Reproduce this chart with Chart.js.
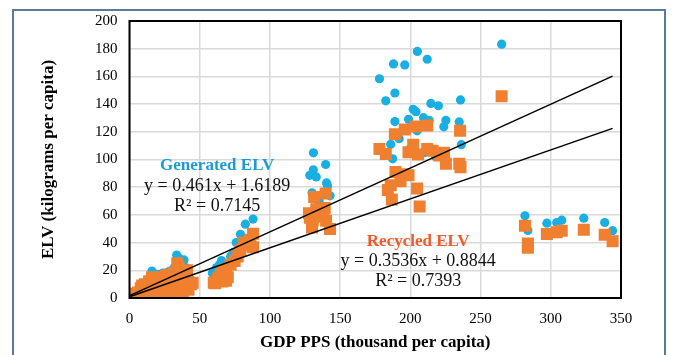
<!DOCTYPE html>
<html lang="en">
<head>
    <meta charset="UTF-8">
    <title>ELV vs GDP</title>
    <script src="https://cdn.jsdelivr.net/npm/chart.js@4"></script>
    <style>
        body{
            margin: 0;
            background: white;
        }
        .divGrafico{
            width: 674px;
            height: 355px;
        }
    </style>
</head>
<body>
    <div class="divGrafico">
        <canvas id="grafico" width="674" height="355"></canvas>
    </div>

    <script>
        // Generated ELV (kg per capita) vs GDP PPS (thousand per capita)
        let genX = [0.5, 1, 2, 3, 4, 5, 6, 7, 8, 9, 10, 11, 12, 13, 14, 15, 16, 18, 20, 22, 24, 26, 28, 30, 32, 33.6, 35, 37, 38.8, 40, 42, 44, 45,
            59, 62, 64, 65.5, 67, 69, 72, 74, 76, 79, 82.5, 88,
            128.4, 130, 130.9, 131, 133, 139.7, 140.3, 141, 142.8, 135, 137, 132,
            178, 182.5, 186, 187.4, 188, 189, 189, 196, 198.7, 202, 204, 204.8, 205, 209.4, 212, 213.4, 214.6, 220, 223.8, 225.3, 234.8, 235.7, 236.3, 265, 192, 200, 210, 218,
            281.6, 283.7, 297.2, 304.2, 307.8, 323.5, 338.4, 344];
        let genY = [1, 2, 0.5, 3, 2, 4, 5, 6, 8, 9, 10, 8, 12, 11, 13, 16, 19.5, 15, 17, 17, 18, 16, 19, 20, 22, 31, 29, 26, 27.5, 22, 15, 13, 12,
            18, 22, 24, 27, 25, 22, 30, 33, 40, 46, 53.3, 57,
            88.6, 76, 92.6, 104.8, 87.4, 96.4, 83.1, 81, 73.8, 70, 66, 65,
            158.3, 142.4, 111, 100.5, 169, 148, 127.4, 168.3, 129, 136.2, 134.5, 120.7, 178, 130.2, 172.4, 128.3, 140.5, 138.8, 123.6, 128.3, 127.1, 143, 110.7, 183.3, 115, 108, 105, 102,
            59.3, 48.8, 54, 54.5, 56.2, 57.6, 54.5, 48.6];

        // Recycled ELV
        let recX = [0, 0.5, 1, 2, 3, 4, 5, 6, 7, 8, 9, 10, 11, 12, 13, 14, 15, 16, 17, 18, 19, 20, 21, 22, 23, 24, 25, 26, 27, 28, 29, 30, 31, 32, 33, 34, 35, 36, 37, 38, 39, 40, 41, 42, 44, 45,
            60, 61, 63, 65, 66, 67, 68.8, 68.8, 70, 72, 74.9, 77, 79, 81.6, 84, 88, 88, 86,
            127.8, 128.5, 130, 130.5, 131.5, 133, 134.5, 136, 138, 139.7, 140, 139, 142.8,
            178, 182.5, 184, 186, 186.8, 189, 189.4, 193, 194.7, 196, 198.7, 198.7, 202, 204, 204.8, 205.5, 206.6, 212, 212, 215.8, 221, 224, 225.3, 234.8, 235.7, 235.4, 265,
            281.6, 283.7, 283.7, 297.2, 304.2, 307.8, 323.5, 338.4, 344];
        let recY = [0, 1, 0, 2, 1, 3, 0, 4, 2, 7, 9, 5, 10, 3, 8, 12, 6, 15, 11, 3, 14, 1, 9, 15, 6, 2, 13, 16, 7, 3, 17, 11, 5, 18, 2, 25, 22, 15, 8, 3, 19, 12, 20, 6, 10, 11,
            11, 10.7, 14, 17, 12, 19, 12.4, 20.7, 15, 24, 26.7, 30, 34.5, 39.8, 38, 36.7, 46.4, 42,
            61.2, 58, 51, 56, 73, 64, 58.8, 62, 60, 75.5, 55.7, 65, 49.8,
            107.6, 104, 77.9, 81.4, 71.2, 118.3, 91, 84.3, 89.3, 121.7, 88.6, 105.2, 110.7, 123.8, 79, 103.6, 66, 124.5, 107.6, 106.4, 102.9, 104.8, 96.9, 96.9, 94.5, 120.7, 145.7,
            52.1, 39.3, 36.2, 46.2, 47.4, 48.6, 49.3, 45.7, 41];

        // linear trendlines, end points
        let trendX = [0.5, 344];
        let trendGen = [1.85, 160.2];
        let trendRec = [1.06, 122.5];

        let xTicks = [0, 50, 100, 150, 200, 250, 300, 350];
        let yTicks = [0, 20, 40, 60, 80, 100, 120, 140, 160, 180, 200];

        let labelGen = ['Generated ELV', 'y = 0.461x + 1.6189', 'R² = 0.7145'];
        let labelRec = ['Recycled ELV', 'y = 0.3536x + 0.8844', 'R² = 0.7393'];

        function pares(xs, ys) {
            return xs.map((x, i) => ({x: x, y: ys[i]}));
        }

        const serif = "'Liberation Serif', 'Times New Roman', serif";

        // frame, plot border and the trendline labels
        let extras = {
            id: 'extras',
            beforeDraw(chart) {
                let ctx = chart.ctx;
                ctx.save();
                ctx.fillStyle = 'white';
                ctx.fillRect(0, 0, chart.width, chart.height);
                ctx.strokeStyle = '#5b7a99';
                ctx.lineWidth = 2;
                ctx.strokeRect(13, 10, 652, 400);
                ctx.restore();
            },
            afterDraw(chart) {
                let ctx = chart.ctx;
                let a = chart.chartArea;
                let sx = chart.scales.x, sy = chart.scales.y;
                ctx.save();
                ctx.strokeStyle = '#000';
                ctx.lineWidth = 2;
                ctx.strokeRect(a.left, a.top, a.right - a.left, a.bottom - a.top);

                ctx.textAlign = 'center';
                ctx.textBaseline = 'middle';
                let escreve = function (linhas, cx, y0, cor) {
                    linhas.forEach((t, i) => {
                        ctx.font = (i === 0 ? 'bold 17px ' : '18px ') + serif;
                        ctx.fillStyle = i === 0 ? cor : '#111';
                        ctx.fillText(t, sx.getPixelForValue(cx), sy.getPixelForValue(y0) + i * 20);
                    });
                };
                escreve(labelGen, 62.4, 95.3, '#1d9ad6');
                escreve(labelRec, 205.6, 40.9, '#f15a29');
                ctx.restore();
            }
        };

        let grafico = new Chart(document.getElementById('grafico'), {
            type: 'scatter',
            data: {
                datasets: [{
                    type: 'line',
                    data: pares(trendX, trendGen),
                    borderColor: '#000',
                    borderWidth: 1.5,
                    pointRadius: 0
                }, {
                    type: 'line',
                    data: pares(trendX, trendRec),
                    borderColor: '#000',
                    borderWidth: 1.5,
                    pointRadius: 0
                }, {
                    label: 'Recycled ELV',
                    data: pares(recX, recY),
                    pointStyle: 'rect',
                    pointRadius: 8.5,
                    backgroundColor: '#f0802f',
                    borderWidth: 0
                }, {
                    label: 'Generated ELV',
                    data: pares(genX, genY),
                    pointStyle: 'circle',
                    pointRadius: 4.6,
                    backgroundColor: '#19afe2',
                    borderWidth: 0
                }]
            },
            options: {
                responsive: false,
                animation: false,
                layout: {
                    padding: {left: 0, top: 19, right: 53, bottom: 0}
                },
                plugins: {
                    legend: {display: false},
                    tooltip: {enabled: false}
                },
                scales: {
                    x: {
                        type: 'linear',
                        min: 0,
                        max: 350,
                        afterBuildTicks: (s) => { s.ticks = xTicks.map(v => ({value: v})); },
                        afterFit: (s) => { s.height = 57; },
                        grid: {color: '#d9d9d9', lineWidth: 1.5, drawTicks: false},
                        border: {display: false},
                        ticks: {
                            padding: 12,
                            color: '#000',
                            font: {family: serif, size: 15}
                        },
                        title: {
                            display: true,
                            text: 'GDP PPS (thousand per capita)',
                            color: '#000',
                            font: {family: serif, size: 17, weight: 'bold'},
                            padding: {top: 0, bottom: 2}
                        }
                    },
                    y: {
                        min: 0,
                        max: 200,
                        afterBuildTicks: (s) => { s.ticks = yTicks.map(v => ({value: v})); },
                        afterFit: (s) => { s.width = 129.5; },
                        grid: {color: '#d9d9d9', lineWidth: 1.5, drawTicks: false},
                        border: {display: false},
                        ticks: {
                            padding: 12,
                            color: '#000',
                            font: {family: serif, size: 15}
                        },
                        title: {
                            display: true,
                            text: 'ELV (kilograms per capita)',
                            color: '#000',
                            font: {family: serif, size: 17, weight: 'bold'},
                            padding: {top: 38, bottom: 0}
                        }
                    }
                }
            },
            plugins: [extras]
        });
    </script>
</body>
</html>
